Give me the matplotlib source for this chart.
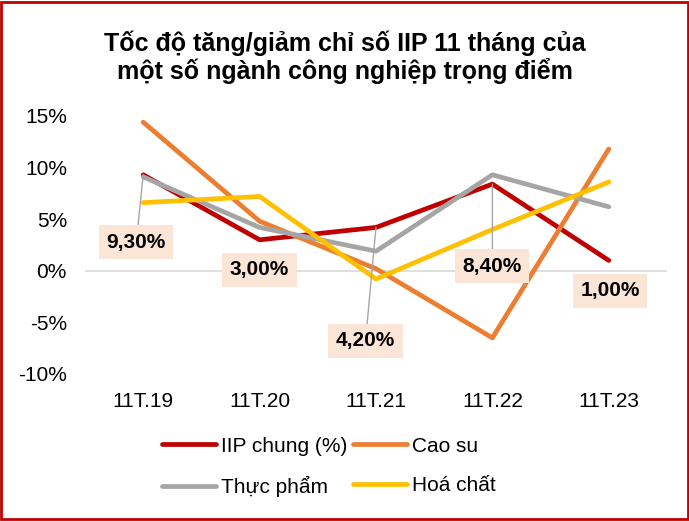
import matplotlib.pyplot as plt
from matplotlib.patches import Rectangle

plt.rcParams['font.family'] = ['Liberation Sans', 'DejaVu Sans']

categories = ['11T.19', '11T.20', '11T.21', '11T.22', '11T.23']
iip_chung = [9.3, 3.0, 4.2, 8.4, 1.0]
cao_su = [14.4, 4.8, 0.2, -6.5, 11.8]
thuc_pham = [9.1, 4.2, 1.9, 9.3, 6.2]
hoa_chat = [6.6, 7.2, -0.8, 4.0, 8.6]
iip_labels = ['9,30%', '3,00%', '4,20%', '8,40%', '1,00%']
yticks = [-10, -5, 0, 5, 10, 15]

series = [
    ('IIP chung (%)', iip_chung, '#C00000'),
    ('Cao su', cao_su, '#ED7D31'),
    ('Thực phẩm', thuc_pham, '#A5A5A5'),
    ('Hoá chất', hoa_chat, '#FFC000'),
]

fig = plt.figure(figsize=(6.89, 5.21), dpi=100)
ax = fig.add_axes((0.1234, 0.2822, 0.8446, 0.4952))

x = list(range(len(categories)))
handles = []
for name, vals, col in series:
    ln, = ax.plot(x, vals, color=col, lw=3.4, label=name,
                  solid_capstyle='round', solid_joinstyle='round')
    handles.append(ln)

ax.axhline(0, color='#D9D9D9', lw=1.2, zorder=0)

# label boxes for IIP chung (offsets in data units)
label_pos = [(-0.06, 2.75), (1.0, 0.1), (1.91, -6.8), (3.0, 0.45), (4.01, -1.95)]
for i, (txt, (lx, ly)) in enumerate(zip(iip_labels, label_pos)):
    ax.annotate(txt, xy=(x[i], iip_chung[i]), xytext=(lx, ly),
                ha='center', va='center', fontsize=15, fontweight='bold',
                bbox=dict(boxstyle='square,pad=0.36', fc='#FBE5D6', ec='none'),
                arrowprops=dict(arrowstyle='-', color='#A6A6A6', lw=1,
                                shrinkA=0, shrinkB=0) if i in (0, 2, 3) else None,
                zorder=5)

ax.set_xlim(-0.5, 4.5)
ax.set_ylim(-10, 15)
ax.set_xticks(x)
ax.set_xticklabels(categories, fontsize=15)
ax.set_yticks(yticks)
ax.set_yticklabels(['{}%'.format(v) for v in yticks], fontsize=15)
ax.tick_params(length=0)
ax.tick_params(axis='y', pad=13)
ax.tick_params(axis='x', pad=13)
for s in ax.spines.values():
    s.set_visible(False)

fig.text(0.5, 0.89, 'Tốc độ tăng/giảm chỉ số IIP 11 tháng của\nmột số ngành công nghiệp trọng điểm',
         ha='center', va='center', fontsize=18, fontweight='bold', linespacing=1.1)

# row-wise order: IIP, Cao su / Thực phẩm, Hoá chất
order = [0, 2, 1, 3]
leg = fig.legend([handles[i] for i in order], [series[i][0] for i in order],
                 loc='upper left', bbox_to_anchor=(0.235, 0.162), ncol=2, frameon=False,
                 fontsize=15, handlelength=2.6, handletextpad=0.25, columnspacing=0.25,
                 labelspacing=1.0, borderpad=0, borderaxespad=0)
for h in leg.get_lines():
    h.set_linewidth(3.4)
    h.set_solid_capstyle('round')

fig.patches.append(Rectangle((0.002, 0.003), 0.996, 0.994, transform=fig.transFigure,
                             fill=False, ec='#C00000', lw=2))

fig.savefig('out.png', dpi=100)
